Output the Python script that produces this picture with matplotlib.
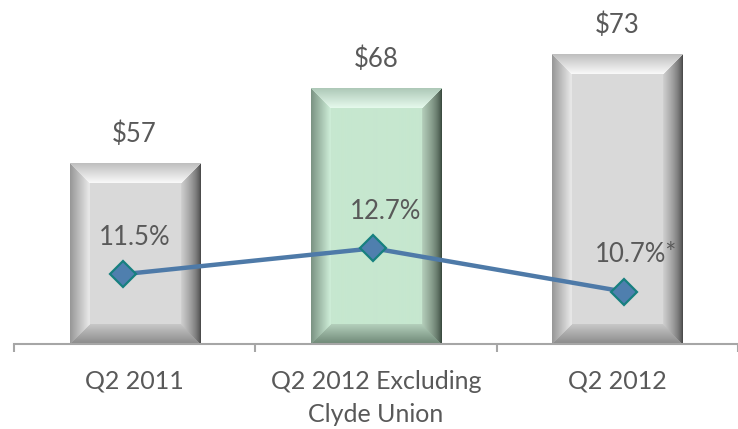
import numpy as np
import matplotlib
matplotlib.use("Agg")
import matplotlib.pyplot as plt
from matplotlib.colors import to_rgb

plt.rcParams['font.family'] = ['Lato', 'DejaVu Sans']

# Revenue (bars, $) and margin (line, %) per period
categories = ["Q2 2011", "Q2 2012 Excluding\nClyde Union", "Q2 2012"]
revenue = [57, 68, 73]
revenue_labels = ["$57", "$68", "$73"]
margin = [11.5, 12.7, 10.7]
margin_labels = ["11.5%", "12.7%", "10.7%*"]

TEXT = "#595959"
AXIS = "#a6a6a6"

# colour schemes for the bevelled bars: face, then (outer, inner) for each side
GRAY = dict(face="#d9d9d9",
            top=("#bebebe", "#fafafa"),
            left=("#969696", "#ebebeb"),
            right=("#3c3c3c", "#cfcfcf"),
            bottom=("#8a8a8a", "#c8c8c8"))
GREEN = dict(face="#c6e7cf",
             top=("#adc8b7", "#e6faed"),
             left=("#7a9282", "#d0f0da"),
             right=("#2d3b31", "#b4ceba"),
             bottom=("#6e8776", "#b4d0bc"))
schemes = [GRAY, GREEN, GRAY]

W, H, DPI = 738, 429, 100
fig = plt.figure(figsize=(W / DPI, H / DPI), dpi=DPI)

base_px = 344
left_px = 14
ax = fig.add_axes([left_px / W, (H - base_px) / H, (W - left_px) / W, base_px / H])
ax.set_xlim(-0.5, -0.5 + (W - left_px) / 245)
ax.set_ylim(30.46, 30.46 + base_px / 6.81)

x = np.arange(len(categories))
bars = ax.bar(x, revenue, width=0.54, color="none", edgecolor="none", zorder=2)


def bevel_image(wpx, hpx, scheme, depth=20):
    """RGB image of a bevelled rectangle of wpx x hpx pixels (origin lower)."""
    u = (np.arange(wpx) + 0.5)[None, :] * np.ones((hpx, 1))
    v = (np.arange(hpx) + 0.5)[:, None] * np.ones((1, wpx))
    dist = np.stack([hpx - v, u, wpx - u, v])  # top, left, right, bottom
    side = np.argmin(dist, axis=0)
    dmin = np.min(dist, axis=0)
    img = np.empty((hpx, wpx, 3))
    img[:] = to_rgb(scheme["face"])
    for k, name in enumerate(["top", "left", "right", "bottom"]):
        outer = np.array(to_rgb(scheme[name][0]))
        inner = np.array(to_rgb(scheme[name][1]))
        t = np.clip(dmin / depth, 0, 1)
        if name == "right":
            t = t ** 0.6
        col = outer[None, None, :] * (1 - t[..., None]) + inner[None, None, :] * t[..., None]
        m = (side == k) & (dmin < depth)
        img[m] = col[m]
    return img


for bar, scheme in zip(bars, schemes):
    x0, y0 = bar.get_x(), bar.get_y()
    x1, y1 = x0 + bar.get_width(), y0 + bar.get_height()
    y0 = max(y0, ax.get_ylim()[0])
    (px0, py0), (px1, py1) = ax.transData.transform([(x0, y0), (x1, y1)])
    wpx, hpx = int(round(px1 - px0)), int(round(py1 - py0))
    img = bevel_image(wpx, hpx, scheme)
    ax.imshow(img, extent=[x0, x1, y0, y1], origin="lower", aspect="auto",
              interpolation="bilinear", zorder=2)

ax.set_xlim(-0.5, -0.5 + (W - left_px) / 245)
ax.set_ylim(30.46, 30.46 + base_px / 6.81)

for bar, lab in zip(bars, revenue_labels):
    ax.annotate(lab, (bar.get_x() + bar.get_width() / 2, bar.get_height()),
                xytext=(0, 21.5), textcoords="offset pixels",
                ha="center", va="baseline", fontsize=18.5, color=TEXT, zorder=5)

for s in ["top", "left", "right"]:
    ax.spines[s].set_visible(False)
ax.spines["bottom"].set_color(AXIS)
ax.spines["bottom"].set_linewidth(1.5)
ax.spines["bottom"].set_zorder(4)
ax.set_yticks([])
ax.set_xticks(x)
ax.set_xticklabels(categories, fontsize=18, color=TEXT, linespacing=1.55)
ax.tick_params(axis="x", which="major", length=0, pad=18.5)
ax.set_xticks(np.arange(len(categories) + 1) - 0.5, minor=True)
ax.tick_params(axis="x", which="minor", length=6, width=1.5, color=AXIS, direction="out")
ax.patch.set_alpha(0)

# margin line on its own axes
ax2 = fig.add_axes(ax.get_position(), frameon=False)
ax2.set_xlim(-(122.7 - left_px) / 250.65, (W - 122.7) / 250.65)
ax2.set_ylim(8.28, 8.28 + base_px / 21.65)
ax2.plot(x, margin, color="#4e7aa8", lw=3.2, marker="D", markersize=13,
         markerfacecolor="#4f7fae", markeredgecolor="#17807f", markeredgewidth=1.6,
         zorder=3, solid_capstyle="round")
for xi, m, lab in zip(x, margin, margin_labels):
    ax2.annotate(lab, (xi, m), xytext=(12, 29.5), textcoords="offset pixels",
                 ha="center", va="baseline", fontsize=18.5, color=TEXT)
ax2.set_xticks([])
ax2.set_yticks([])

fig.savefig("out.png", dpi=DPI)
